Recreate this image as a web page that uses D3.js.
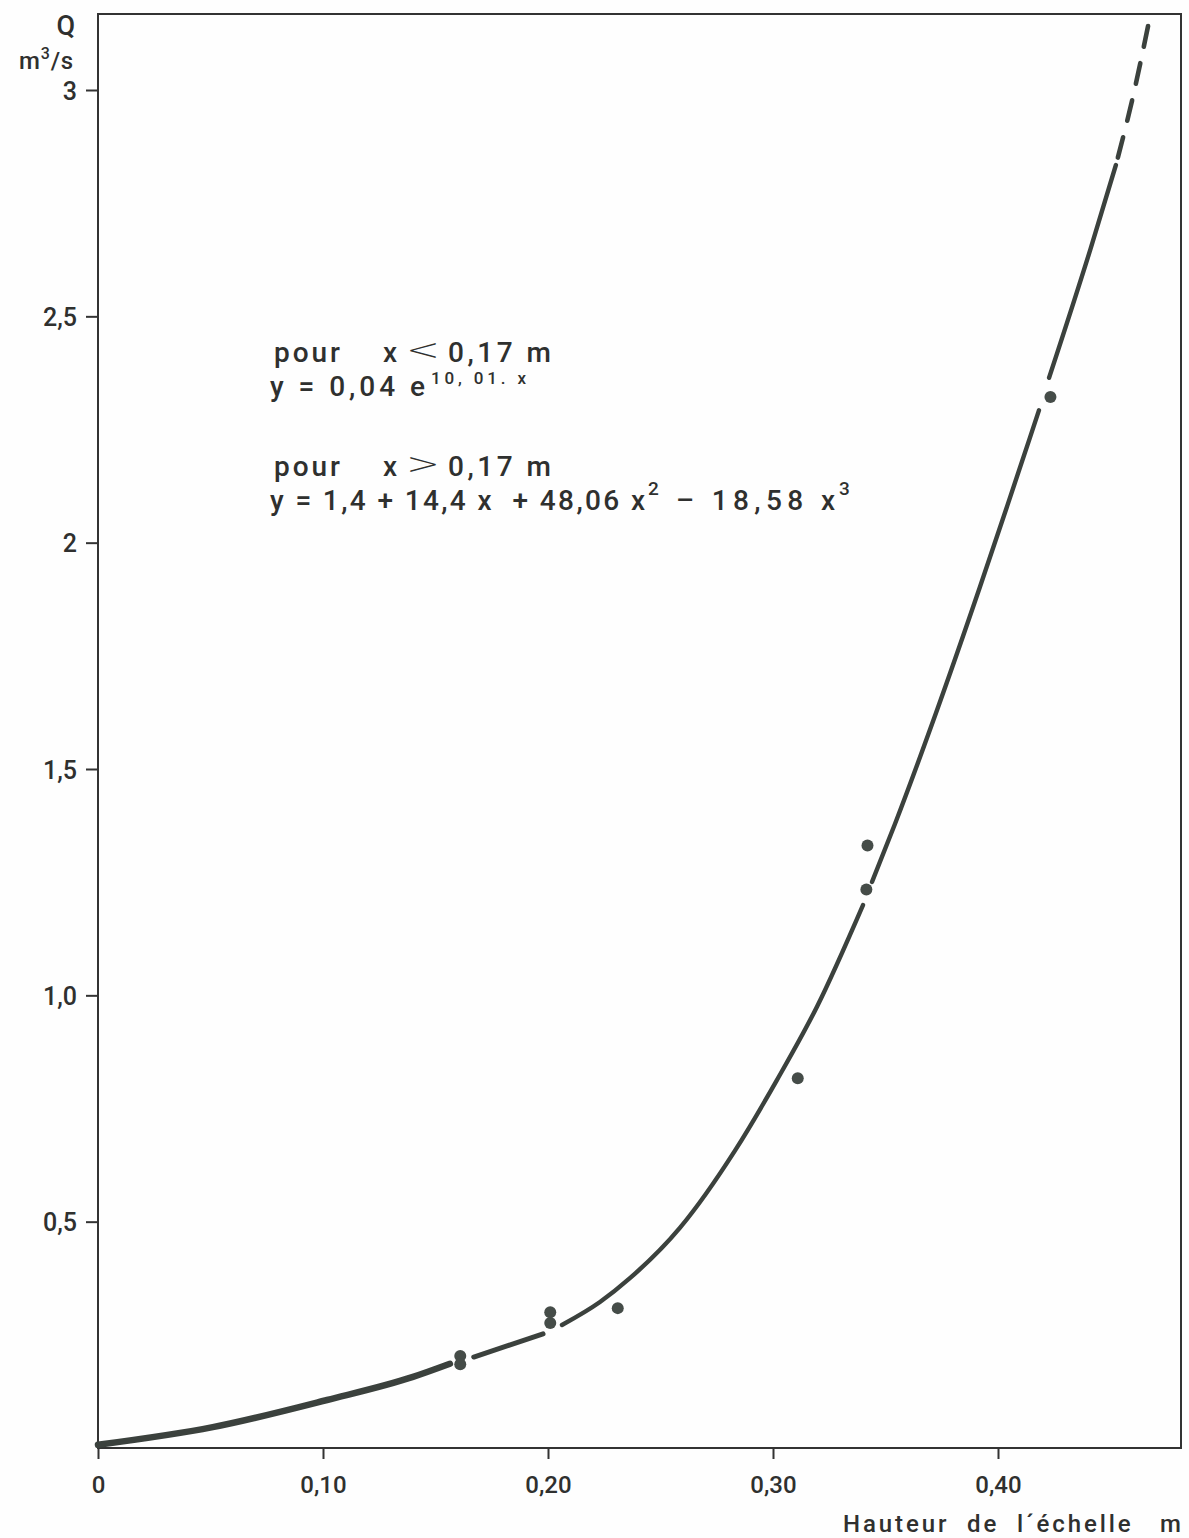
<!DOCTYPE html>
<html>
<head>
<meta charset="utf-8">
<script src="https://cdn.jsdelivr.net/npm/d3@7"></script>
<style>
  html, body { margin: 0; padding: 0; background: #fefefe; }
  svg { display: block; }
  text { font-family: Roboto, "Liberation Sans", sans-serif; fill: #2f302f; }
</style>
</head>
<body>
<svg id="chart" width="1189" height="1538"></svg>
<script>
// ---------- data ----------
const xTicks = [0, 0.1, 0.2, 0.3, 0.4];
const xTickLabels = ["0", "0,10", "0,20", "0,30", "0,40"];
const yTicks = [0.5, 1.0, 1.5, 2.0, 2.5, 3.0];
const yTickLabels = ["0,5", "1,0", "1,5", "2", "2,5", "3"];

// observed points [hauteur m, Q m3/s]
const obsX = [0.161, 0.161, 0.201, 0.201, 0.231, 0.311, 0.3415, 0.342, 0.4233];
const obsY = [0.203, 0.185, 0.300, 0.276, 0.309, 0.817, 1.234, 1.331, 2.322];

// rating curve, drawn in pieces (broken at the points)
const curveA = [[0, 0.007], [0.051, 0.046], [0.1018, 0.106], [0.140, 0.157], [0.1564, 0.186]];
const curveB = [[0.167, 0.201], [0.1978, 0.252]];
const curveC = [[0.2062, 0.2717], [0.2231, 0.3225], [0.2364, 0.3751], [0.2587, 0.4869], [0.2831, 0.6570],
                [0.3018, 0.8134], [0.3196, 0.9755], [0.3400, 1.1995]];
const curveD = [[0.3440, 1.2504], [0.3542, 1.3785], [0.3724, 1.6231], [0.3920, 1.9025], [0.4040, 2.0797],
                [0.4142, 2.2321], [0.4182, 2.2924]];
const curveE = [[0.4227, 2.3642], [0.4413, 2.6518], [0.4524, 2.8343]];
const curveF = [[0.4667, 3.1414], [0.4596, 2.9770], [0.4524, 2.8343]]; // dashed extrapolation

// equation block: [text, x, baseline, font size, textLength or null, family]
const eqPieces = [
  ["pour", 274, 362, 28, 66, null],
  ["x", 383, 362, 28, null, null],
  ["<", 406, 360, 30, 34, "DejaVu Sans"],
  ["0,17 m", 448, 362, 28, 103, null],
  ["y = 0,04 e", 270, 396, 28, 155, null],
  ["10, 01. x", 431, 384, 17, 95, null],
  ["pour", 274, 476, 28, 66, null],
  ["x", 383, 476, 28, null, null],
  [">", 406, 474, 30, 34, "DejaVu Sans"],
  ["0,17 m", 448, 476, 28, 103, null],
  ["y = 1,4 + 14,4 x  + 48,06 x", 270, 510, 28, 375, null],
  ["2", 648, 495, 19, null, null],
  ["\u2013 18,58 x", 676, 510, 28, 159, null],
  ["3", 839, 495, 19, null, null]
];

// ---------- drawing ----------
const svg = d3.select("#chart");
const ink = "#3b413d";

const x = d3.scaleLinear().domain([0, 0.4]).range([98, 998]);
const y = d3.scaleLinear().domain([0, 3]).range([1448, 90]);

const pLeft = x(0), pBottom = y(0), pTop = 14, pRight = 1181;

// frame
svg.append("path")
  .attr("d", `M${pLeft},${pBottom} L${pLeft},${pTop} L${pRight},${pTop} L${pRight},${pBottom} Z`)
  .attr("fill", "none").attr("stroke", "#333").attr("stroke-width", 2);

// x axis
const xAxis = d3.axisBottom(x).tickValues(xTicks).tickSize(11)
  .tickFormat((d, i) => xTickLabels[i]);
const gx = svg.append("g").attr("transform", `translate(0,${pBottom})`).call(xAxis);
gx.select(".domain").remove();
gx.selectAll(".tick line").attr("stroke", "#333").attr("stroke-width", 2);
gx.selectAll(".tick text").attr("font-size", 24).attr("font-weight", 500).attr("dy", 0).attr("y", 45)
  .style("font-family", "Roboto, sans-serif").attr("fill", "#2f302f");

// y axis
const yAxis = d3.axisLeft(y).tickValues(yTicks).tickSize(12)
  .tickFormat((d, i) => yTickLabels[i]);
const gy = svg.append("g").attr("transform", `translate(${pLeft},0)`).call(yAxis);
gy.select(".domain").remove();
gy.selectAll(".tick line").attr("stroke", "#333").attr("stroke-width", 2);
gy.selectAll(".tick text").attr("font-size", 25).attr("font-weight", 500).attr("x", -21).attr("dy", "0.36em")
  .style("font-family", "Roboto, sans-serif").attr("fill", "#2f302f");

// y axis title
svg.append("text").attr("x", 75).attr("y", 35).attr("text-anchor", "end")
  .attr("font-size", 27).attr("font-weight", 500).text("Q");
const unit = svg.append("text").attr("x", 74).attr("y", 69).attr("text-anchor", "end")
  .attr("font-size", 24).attr("font-weight", 500).attr("letter-spacing", 0.8);
unit.append("tspan").text("m");
unit.append("tspan").attr("font-size", 16).attr("dy", -10).text("3");
unit.append("tspan").attr("dy", 10).text("/s");

// x axis title
svg.append("text").attr("x", 843).attr("y", 1532).attr("font-size", 24)
  .attr("font-weight", 500).attr("textLength", 338).attr("lengthAdjust", "spacing")
  .style("white-space", "pre")
  .text("Hauteur  de  l\u00b4\u00e9chelle   m");

// curve
const line = d3.line().x(d => x(d[0])).y(d => y(d[1])).curve(d3.curveMonotoneX);
const solid = [[curveA, 6.5], [curveB, 5], [curveC, 4.4], [curveD, 4.4], [curveE, 4.4]];
solid.forEach(([seg, w]) => {
  svg.append("path").attr("d", line(seg)).attr("fill", "none")
    .attr("stroke", ink).attr("stroke-width", w).attr("stroke-linecap", "round");
});
svg.append("path").attr("d", line(curveF)).attr("fill", "none")
  .attr("stroke", ink).attr("stroke-width", 4.6).attr("stroke-linecap", "round")
  .attr("stroke-dasharray", "21,17");

// points
svg.append("g").selectAll("circle").data(obsX).join("circle")
  .attr("cx", d => x(d)).attr("cy", (d, i) => y(obsY[i])).attr("r", 6)
  .attr("fill", "#454c48");

// equations
svg.append("g").selectAll("text").data(eqPieces).join("text")
  .attr("x", d => d[1]).attr("y", d => d[2]).attr("font-size", d => d[3])
  .attr("font-weight", d => d[5] ? 300 : 500)
  .style("font-family", d => d[5] ? d[5] : null)
  .style("white-space", "pre")
  .each(function(d) {
    if (d[4]) d3.select(this).attr("textLength", d[4])
      .attr("lengthAdjust", d[5] ? "spacingAndGlyphs" : "spacing");
  })
  .text(d => d[0]);
</script>
</body>
</html>
